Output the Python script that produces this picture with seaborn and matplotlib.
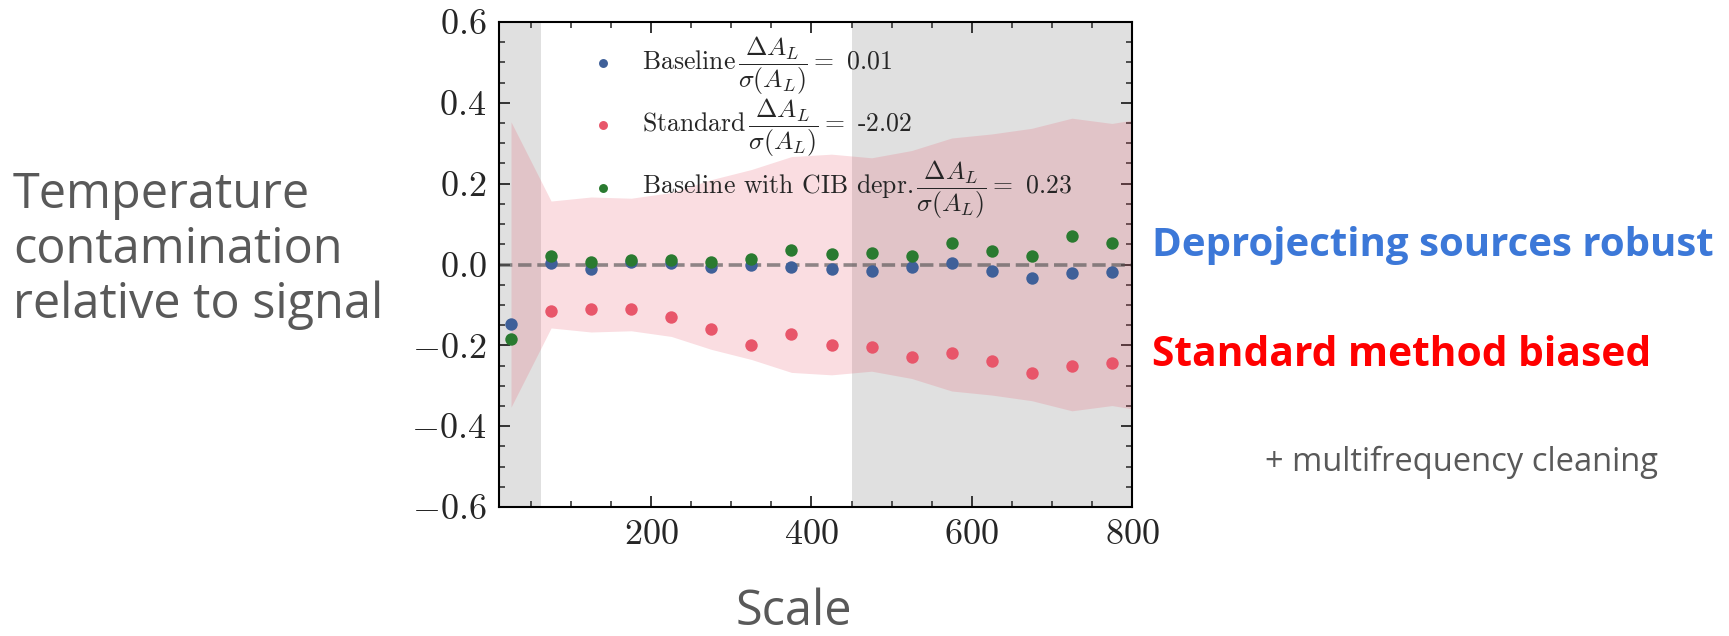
import numpy as np
import pandas as pd
import matplotlib
matplotlib.use("Agg")
import matplotlib.pyplot as plt
from matplotlib.ticker import MultipleLocator
import seaborn as sns

# Bin centres in multipole (scale)
ell = [25, 75, 125, 175, 225, 275, 325, 375, 425, 475, 525, 575, 625, 675, 725, 775]

# Temperature contamination relative to signal, per method
baseline = [-0.146, 0.004, -0.012, 0.006, 0.003, -0.005, -0.002, -0.006,
            -0.011, -0.017, -0.007, 0.004, -0.016, -0.034, -0.021, -0.018]
standard = [np.nan, -0.116, -0.109, -0.109, -0.130, -0.159, -0.199, -0.173,
            -0.198, -0.203, -0.230, -0.220, -0.239, -0.268, -0.250, -0.243]
cib_depr = [-0.184, 0.021, 0.006, 0.012, 0.010, 0.007, 0.013, 0.035,
            0.025, 0.029, 0.020, 0.052, 0.034, 0.022, 0.070, 0.052]

# 1-sigma error band around zero
ell_band = [25, 75, 125, 175, 225, 275, 325, 375, 425, 475, 525, 575, 625, 675, 725, 775, 825]
sigma_band = [0.353, 0.157, 0.167, 0.164, 0.178, 0.210, 0.235, 0.267, 0.273,
              0.264, 0.282, 0.313, 0.323, 0.337, 0.362, 0.349, 0.365]

# Excluded scale ranges (shaded)
excluded = [(0, 62), (450, 900)]

labels = [
    r"Baseline$\,\dfrac{\Delta A_L}{\sigma(A_L)}=$ 0.01",
    r"Standard$\,\dfrac{\Delta A_L}{\sigma(A_L)}=$ -2.02",
    r"Baseline with CIB depr.$\,\dfrac{\Delta A_L}{\sigma(A_L)}=$ 0.23",
]
colors = ["#3f6099", "#e8566a", "#2a7a30"]

x_ticks = [200, 400, 600, 800]
y_ticks = [-0.6, -0.4, -0.2, 0.0, 0.2, 0.4, 0.6]

sns.set_theme(style="ticks")
plt.rcParams.update({
    "font.family": "serif",
    "font.serif": ["cmr10", "DejaVu Serif"],
    "mathtext.fontset": "cm",
    "axes.formatter.use_mathtext": True,
    "axes.unicode_minus": True,
    "xtick.direction": "in",
    "ytick.direction": "in",
    "xtick.top": True,
    "ytick.right": True,
})

fig = plt.figure(figsize=(17.29, 6.36), dpi=100)
ax = fig.add_axes([499 / 1729, 1 - 507 / 636, 633 / 1729, 485 / 636])

for lo, hi in excluded:
    ax.axvspan(lo, hi, color="#e0e0e0", lw=0, zorder=0)

ax.fill_between(ell_band, [-s for s in sigma_band], sigma_band,
                color="#e8566a", alpha=0.2, lw=0, zorder=1)
ax.axhline(0, color="#555555", alpha=0.65, lw=2.6, ls="--", zorder=2)

df = pd.DataFrame({"ell": ell, "baseline": baseline,
                   "standard": standard, "cib": cib_depr})
for col, lab, c in zip(["baseline", "standard", "cib"], labels, colors):
    sns.scatterplot(data=df, x="ell", y=col, ax=ax, color=c, s=80,
                    linewidth=0, label=lab, zorder=3)

ax.set_xlim(10, 800)
ax.set_ylim(-0.6, 0.6)
ax.set_xticks(x_ticks)
ax.set_yticks(y_ticks)
ax.xaxis.set_minor_locator(MultipleLocator(50))
ax.yaxis.set_minor_locator(MultipleLocator(0.05))
ax.tick_params(which="major", length=8, width=1.3, labelsize=26, pad=9)
ax.tick_params(which="minor", length=4, width=1.1)
for sp in ax.spines.values():
    sp.set_linewidth(1.5)
    sp.set_color("black")
ax.set_xlabel("")
ax.set_ylabel("")

ax.legend(loc="upper left", bbox_to_anchor=(0.147, 0.975), frameon=False,
          fontsize=18.5, borderpad=0, borderaxespad=0, handlelength=0.85,
          handletextpad=1.1, labelspacing=0.0, markerscale=0.72)

sans = ["Open Sans", "DejaVu Sans"]
fig.text(13 / 1729, 1 - 250 / 636,
         "Temperature\ncontamination\nrelative to signal",
         ha="left", va="center", fontsize=35, color="#595959",
         family=sans, linespacing=1.14)
fig.text(794 / 1729, 1 - 625 / 636, "Scale", ha="center", va="baseline",
         fontsize=35, color="#595959", family=sans)
fig.text(1152 / 1729, 1 - 245 / 636, "Deprojecting sources robust",
         ha="left", va="center", fontsize=29, color="#3c78d8",
         family=sans, fontweight="bold")
fig.text(1152 / 1729, 1 - 356 / 636, "Standard method biased",
         ha="left", va="center", fontsize=29.3, color="#ff0000",
         family=sans, fontweight="bold")
fig.text(1265 / 1729, 1 - 462 / 636, "+ multifrequency cleaning",
         ha="left", va="center", fontsize=23.5, color="#595959", family=sans)

fig.savefig("out.png", dpi=100, facecolor="white")
